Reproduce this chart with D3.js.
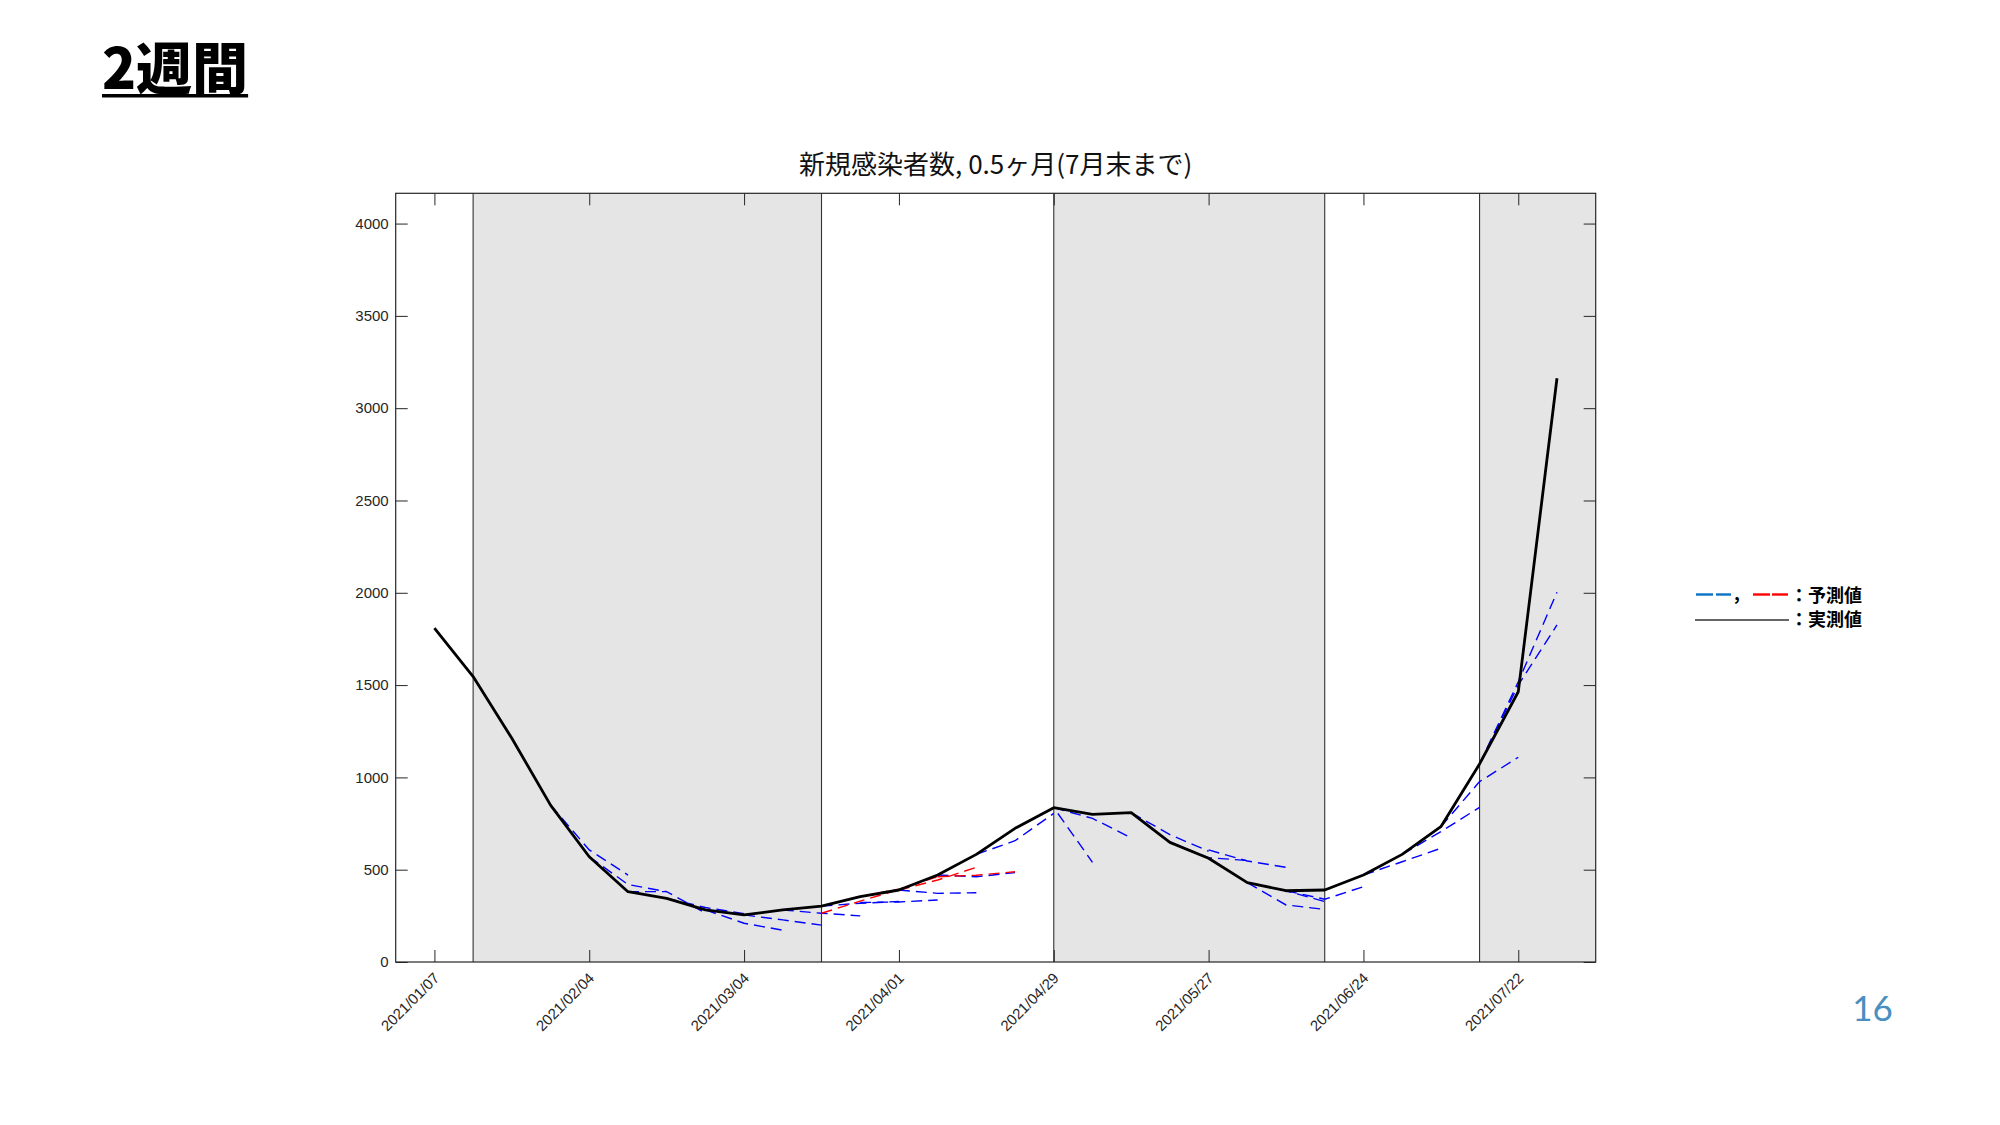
<!DOCTYPE html>
<html>
<head>
<meta charset="utf-8">
<script src="https://cdn.jsdelivr.net/npm/d3@7"></script>
<style>
  html, body { margin: 0; padding: 0; background: #fff; }
  svg { display: block; }
</style>
</head>
<body>
<svg id="chart" width="2000" height="1125"></svg>
<script>
// ---------------- data ----------------
const actualDates = ["2021-01-07","2021-01-14","2021-01-21","2021-01-28","2021-02-04","2021-02-11","2021-02-18","2021-02-25",
  "2021-03-04","2021-03-11","2021-03-18","2021-03-25","2021-04-01","2021-04-08","2021-04-15","2021-04-22","2021-04-29",
  "2021-05-06","2021-05-13","2021-05-20","2021-05-27","2021-06-03","2021-06-10","2021-06-17","2021-06-24","2021-07-01",
  "2021-07-08","2021-07-15","2021-07-22","2021-07-29"];
const actualValues = [1808,1546,1212,850,570,381,345,282,255,282,303,354,390,471,583,724,836,800,809,648,562,430,386,390,471,583,733,1073,1464,3162];

// blue predictions: start week and values for start, +1 week, +2 weeks
const blueStarts = ["2021-01-28","2021-02-04","2021-02-11","2021-02-18","2021-02-25","2021-03-04","2021-03-11","2021-03-18",
  "2021-03-25","2021-04-01","2021-04-08","2021-04-15","2021-04-22","2021-04-29","2021-05-13","2021-05-20","2021-05-27",
  "2021-06-03","2021-06-03","2021-06-10","2021-06-24","2021-07-01","2021-07-08","2021-07-15","2021-07-15"];
const blueValues = [
  [850,607,471],[570,420,381],[381,381,265],[345,295,262],[282,210,172],[255,228,200],[282,264,250],[303,318,328],
  [322,325,336],[390,372,375],[471,462,484],[583,657,805],[724,836,540],[836,778,673],[809,690,600],[648,565,550],
  [607,547,513],[430,309,285],[430,386,327],[386,340,408],[471,543,616],[583,706,838],[733,977,1109],[1073,1518,2003],
  [1073,1500,1826]];

// red predictions
const redStarts = ["2021-03-18","2021-03-25","2021-04-01","2021-04-08"];
const redValues = [[264,330,392],[354,395,462],[390,444,513],[462,470,489]];

// shaded periods
const shadeStarts = ["2021-01-14","2021-04-29","2021-07-15"];
const shadeEnds   = ["2021-03-18","2021-06-17","2021-08-05"];
const boundaryDates = ["2021-01-14","2021-03-18","2021-04-29","2021-06-17","2021-07-15"];

const xTickDates = ["2021-01-07","2021-02-04","2021-03-04","2021-04-01","2021-04-29","2021-05-27","2021-06-24","2021-07-22"];
const xTickLabels = ["2021/01/07","2021/02/04","2021/03/04","2021/04/01","2021/04/29","2021/05/27","2021/06/24","2021/07/22"];
const yTicks = [0,500,1000,1500,2000,2500,3000,3500,4000];

const pageTitle = "2週間";
const chartTitle = "新規感染者数, 0.5ヶ月(7月末まで)";
const legendPred = "：予測値";
const legendActual = "：実測値";
const pageNumber = "16";

// ---------------- layout ----------------
const parse = s => { const [y,m,d] = s.split("-").map(Number); return new Date(Date.UTC(y,m-1,d)); };
const plot = {left: 395.7, right: 1595.7, top: 193.3, bottom: 962};
const x = d3.scaleUtc().domain([parse("2020-12-31"), parse("2021-08-05")]).range([plot.left, plot.right]);
const y = d3.scaleLinear().domain([0, 4164]).range([plot.bottom, plot.top]);

const svg = d3.select("#chart");
const axisColor = "#262626";

// page title
const pt = svg.append("text").attr("x", 102).attr("y", 89)
  .attr("font-family", "'Noto Sans CJK JP', sans-serif").attr("font-weight", 900)
  .attr("font-size", 56).attr("fill", "#000").text(pageTitle);
const ptw = pt.node().getComputedTextLength();
svg.append("rect").attr("x", 102).attr("y", 94).attr("width", ptw).attr("height", 3.5).attr("fill", "#000");

// chart title
svg.append("text").attr("x", (plot.left + plot.right) / 2).attr("y", 174)
  .attr("text-anchor", "middle")
  .attr("font-family", "'Noto Sans CJK JP', sans-serif").attr("font-size", 26)
  .attr("fill", "#111").text(chartTitle);

// shading
svg.append("g").selectAll("rect").data(shadeStarts.map((s,i) => [parse(s), parse(shadeEnds[i])]))
  .join("rect")
  .attr("x", d => x(d[0])).attr("y", plot.top)
  .attr("width", d => x(d[1]) - x(d[0])).attr("height", plot.bottom - plot.top)
  .attr("fill", "#e5e5e5");

// boundary lines
svg.append("g").selectAll("line").data(boundaryDates.map(parse)).join("line")
  .attr("x1", d => x(d)).attr("x2", d => x(d))
  .attr("y1", plot.top).attr("y2", plot.bottom)
  .attr("stroke", "#333").attr("stroke-width", 1.1);

// axes (MATLAB-like box with inward ticks)
const tickLen = 12;
const xTicks = xTickDates.map(parse);
const axB = d3.axisBottom(x).tickValues(xTicks).tickSize(-tickLen).tickFormat("");
const axT = d3.axisTop(x).tickValues(xTicks).tickSize(-tickLen).tickFormat("");
const axL = d3.axisLeft(y).tickValues(yTicks).tickSize(-tickLen).tickFormat("");
const axR = d3.axisRight(y).tickValues(yTicks).tickSize(-tickLen).tickFormat("");
function styleAxis(g) {
  g.selectAll("path.domain").remove();
  g.selectAll(".tick line").attr("stroke", axisColor).attr("stroke-width", 1);
}
svg.append("g").attr("transform", `translate(0,${plot.bottom})`).call(axB).call(styleAxis);
svg.append("g").attr("transform", `translate(0,${plot.top})`).call(axT).call(styleAxis);
svg.append("g").attr("transform", `translate(${plot.left},0)`).call(axL).call(styleAxis);
svg.append("g").attr("transform", `translate(${plot.right},0)`).call(axR).call(styleAxis);

// y tick labels
svg.append("g").selectAll("text").data(yTicks).join("text")
  .attr("x", plot.left - 7).attr("y", d => y(d)).attr("dy", "0.35em")
  .attr("text-anchor", "end")
  .attr("font-family", "'Liberation Sans', Arial, sans-serif").attr("font-size", 15)
  .attr("fill", axisColor).text(d => d);

// x tick labels, rotated
svg.append("g").selectAll("text").data(xTicks).join("text")
  .attr("transform", (d) => `translate(${x(d) + 6},${plot.bottom + 17}) rotate(-45)`)
  .attr("text-anchor", "end")
  .attr("font-family", "'Liberation Sans', Arial, sans-serif").attr("font-size", 15)
  .attr("fill", axisColor).text((d,i) => xTickLabels[i]);

// prediction lines
const line = d3.line().x(d => x(d[0])).y(d => y(d[1]));
const weekMs = 7 * 24 * 3600 * 1000;
function predPoints(start, vals) {
  const s = parse(start);
  return vals.map((v,i) => [new Date(s.getTime() + i * weekMs), v]);
}
svg.append("g").selectAll("path").data(blueStarts.map((s,i) => predPoints(s, blueValues[i]))).join("path")
  .attr("d", line).attr("fill", "none").attr("stroke", "#0000ff")
  .attr("stroke-width", 1.4).attr("stroke-dasharray", "11,6");
svg.append("g").selectAll("path").data(redStarts.map((s,i) => predPoints(s, redValues[i]))).join("path")
  .attr("d", line).attr("fill", "none").attr("stroke", "#ff0000")
  .attr("stroke-width", 1.4).attr("stroke-dasharray", "11,6");

// actual line
svg.append("path").datum(actualDates.map((d,i) => [parse(d), actualValues[i]]))
  .attr("d", line).attr("fill", "none").attr("stroke", "#000")
  .attr("stroke-width", 2.8).attr("stroke-linejoin", "round");

// box
svg.append("rect").attr("x", plot.left).attr("y", plot.top)
  .attr("width", plot.right - plot.left).attr("height", plot.bottom - plot.top)
  .attr("fill", "none").attr("stroke", axisColor).attr("stroke-width", 1.2);

// legend
const lg = svg.append("g");
[[1696,1713],[1716,1731]].forEach(s => lg.append("line").attr("x1", s[0]).attr("x2", s[1])
  .attr("y1", 594.5).attr("y2", 594.5).attr("stroke", "#0a72c4").attr("stroke-width", 2.4));
lg.append("text").attr("x", 1734).attr("y", 600).attr("font-family", "'Noto Sans CJK JP', sans-serif")
  .attr("font-weight", 700).attr("font-size", 18).attr("fill", "#000").text(",");
[[1753,1770],[1772,1788]].forEach(s => lg.append("line").attr("x1", s[0]).attr("x2", s[1])
  .attr("y1", 594.5).attr("y2", 594.5).attr("stroke", "#ff0000").attr("stroke-width", 2.4));
lg.append("text").attr("x", 1790).attr("y", 602).attr("font-family", "'Noto Sans CJK JP', sans-serif")
  .attr("font-weight", 700).attr("font-size", 18).attr("fill", "#000").text(legendPred);
lg.append("line").attr("x1", 1695).attr("x2", 1789).attr("y1", 620).attr("y2", 620)
  .attr("stroke", "#333").attr("stroke-width", 1.6);
lg.append("text").attr("x", 1790).attr("y", 626).attr("font-family", "'Noto Sans CJK JP', sans-serif")
  .attr("font-weight", 700).attr("font-size", 18).attr("fill", "#000").text(legendActual);

// page number
svg.append("text").attr("x", 1872.5).attr("y", 1021).attr("text-anchor", "middle")
  .attr("font-family", "Lato, sans-serif").attr("font-size", 35)
  .attr("fill", "#4a8fbf").text(pageNumber);
</script>
</body>
</html>
